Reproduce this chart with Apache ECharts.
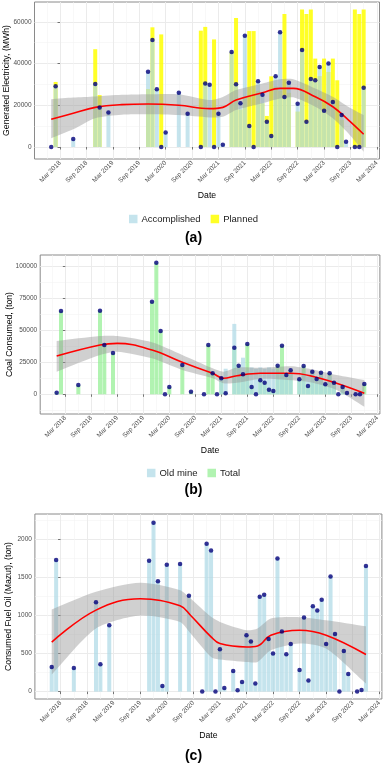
<!DOCTYPE html>
<html>
<head>
<meta charset="utf-8">
<script src="https://cdn.jsdelivr.net/npm/echarts@6/dist/echarts.min.js"></script>
<style>
  html, body { margin: 0; background: #fff; }
  #chart { width: 387px; height: 763px; }
</style>
</head>
<body>
<div id="chart"></div>
<script>
// months with observations (same for all three panels)
const months = [
  '2018-01', '2018-02', '2018-06', '2018-11', '2018-12',
  '2019-02', '2019-11', '2019-12',
  '2020-01', '2020-02', '2020-03', '2020-06', '2020-08', '2020-11', '2020-12',
  '2021-01', '2021-02', '2021-03', '2021-04', '2021-06', '2021-07', '2021-08', '2021-09', '2021-10', '2021-11', '2021-12',
  '2022-01', '2022-02', '2022-03', '2022-04', '2022-05', '2022-06', '2022-07', '2022-09', '2022-10', '2022-11', '2022-12',
  '2023-01', '2023-02', '2023-03', '2023-04', '2023-05', '2023-06', '2023-07', '2023-08', '2023-10', '2023-11', '2023-12'
]

// (a) generated electricity, MWh
const accomplished = [
  0, 29100, 3800, 30200, 19000,
  16500, 36100, 51300,
  27700, 0, 6900, 26000, 16000, 0, 30500,
  29900, 0, 16000, 1100, 45600, 30100, 21000, 53400, 10100, 0, 31500,
  25100, 12100, 5300, 33900, 55000, 24000, 30800, 20800, 46500, 12100, 32600,
  32000, 38400, 17400, 40000, 21600, 0, 15300, 2500, 0, 0, 28400
]
const planned = [
  0, 31200, 0, 46900, 24900,
  0, 27800, 57400,
  0, 54000, 0, 0, 0, 55800, 57600,
  0, 51600, 0, 0, 45600, 61900, 18000, 24000, 55600, 55600, 27000,
  21000, 14900, 33900, 29000, 27000, 63800, 26000, 17000, 66000, 63800, 66000,
  42400, 34000, 42400, 36000, 42400, 32000, 13000, 0, 66000, 63800, 66000
]

// (b) coal consumed, ton
const coalTotal = [
  1250, 65000, 7300, 65300, 38500,
  32300, 72400, 102800,
  49400, 0, 5700, 22900, 2000, 0, 38500,
  16400, 0, 12500, 800, 36400, 22400, 15600, 39300, 5700, 0, 10900,
  9100, 3600, 2600, 22400, 38000, 15100, 18700, 11700, 22100, 6500, 17700,
  12000, 16900, 7800, 16400, 9100, 0, 5700, 1000, 0, 0, 8000
]
const coalOldMine = [
  0, 0, 0, 0, 0,
  0, 0, 0,
  0, 0, 0, 0, 0, 0, 0,
  0, 0, 12000, 20000, 55000, 22000, 28600, 18000, 21000, 20000, 21000,
  20000, 21000, 20000, 18000, 17000, 15000, 16000, 12000, 16000, 14000, 18000,
  12000, 15000, 9000, 14000, 8000, 0, 5000, 0, 0, 0, 0
]

// (c) fuel oil (mazut), ton
const mazut = [
  324, 1728, 311, 1175, 359,
  872, 1719, 2219,
  1451, 74, 1666, 1675, 1258, 0, 1942,
  1855, 0, 556, 48, 271, 17, 127, 741, 657, 105, 1245,
  1271, 692, 500, 1750, 789, 491, 627, 284, 974, 145, 1122,
  1066, 1206, 627, 1513, 758, 0, 535, 232, 0, 21, 1649
]

// loess fits (x in months after Mar 2018)
const genFitX = [-2, 3, 8, 14, 20, 27, 34, 37, 40, 46, 50, 53, 58, 62, 65.5, 69]
const genFit = [13300, 16200, 19000, 20300, 20600, 20000, 18400, 19000, 22500, 26000, 28100, 28100, 24100, 19300, 13000, 6100]
const genLow = [4200, 8500, 13800, 15500, 15700, 15300, 14200, 14500, 17700, 21000, 23300, 23800, 19300, 13800, 6600, -2300]
const genHigh = [22900, 23700, 24200, 25000, 25300, 25300, 22500, 24000, 27300, 30500, 32500, 32500, 28100, 24100, 19300, 15300]

const coalFitX = [-2, 8, 12, 20, 27, 34, 36.5, 39.6, 45, 52, 56.5, 62.6, 69]
const coalFit = [29900, 38500, 39800, 34600, 25000, 16400, 12500, 14500, 16400, 16400, 14500, 8600, 800]
const coalLow = [17700, 30700, 33300, 28100, 19000, 12500, 8600, 9000, 12000, 11000, 9400, 3400, -9700]
const coalHigh = [41600, 45500, 45500, 40600, 30700, 20300, 17700, 21000, 20700, 21900, 19800, 15100, 11200]

const mazutFitX = [-2, 8, 18, 27, 29.4, 34, 36, 42, 44.5, 47.5, 54, 60, 69]
const mazutFit = [649, 1070, 1219, 1127, 1000, 719, 631, 587, 600, 741, 807, 741, 487]
const mazutLow = [224, 829, 1000, 916, 763, 455, 421, 390, 390, 543, 632, 566, 105]
const mazutHigh = [1079, 1311, 1429, 1333, 1224, 982, 916, 807, 830, 961, 978, 938, 859]

// axis breaks
const dateTicks = [0, 6, 12, 18, 24, 30, 36, 42, 48, 54, 60, 66, 72]
const dateLabels = ['Mar 2018', 'Sep 2018', 'Mar 2019', 'Sep 2019', 'Mar 2020', 'Sep 2020', 'Mar 2021',
  'Sep 2021', 'Mar 2022', 'Sep 2022', 'Mar 2023', 'Sep 2023', 'Mar 2024']
const dateMinor = [-3, 3, 9, 15, 21, 27, 33, 39, 45, 51, 57, 63, 69]
const genTicks = [0, 20000, 40000, 60000]
const genMinor = [10000, 30000, 50000]
const coalTicks = [0, 25000, 50000, 75000, 100000]
const coalMinor = [-12500, 12500, 37500, 62500, 87500]
const mazutTicks = [0, 500, 1000, 1500, 2000]
const mazutMinor = [250, 750, 1250, 1750, 2250]

// 'YYYY-MM' -> months after Mar 2018
const monthPos = s => {
  const [y, m] = s.split('-').map(Number)
  return (y - 2018) * 12 + (m - 3)
}
const xs = months.map(monthPos)
const pairs = vals => xs.map((x, i) => [x, vals[i]])

const FONT = 'Liberation Sans'
const panels = [
  {left: 34.5, width: 345, top: 2, height: 157, yMin: -5755, yMax: 69540,
    ticks: genTicks, minor: genMinor, name: 'Generated Electricity, (MWh)', nameGap: 23},
  {left: 40.2, width: 339.7, top: 255, height: 159, yMin: -15390, yMax: 108830,
    ticks: coalTicks, minor: coalMinor, name: 'Coal Consumed, (ton)', nameGap: 26},
  {left: 34.9, width: 347, top: 514, height: 185, yMin: -97, yMax: 2333,
    ticks: mazutTicks, minor: mazutMinor, name: 'Consumed Fuel Oil (Mazut), (ton)', nameGap: 22}
]
const X_MIN = -5.8, X_MAX = 72.6

const grid = panels.map(p => ({
  left: p.left, width: p.width, top: p.top, height: p.height,
  outerBoundsMode: 'none',
  show: true, backgroundColor: '#fff', borderColor: '#8a8a8a', borderWidth: 1
}))

const xMain = panels.map((p, i) => ({
  type: 'value', gridIndex: i, min: X_MIN, max: X_MAX,
  name: 'Date', nameLocation: 'middle', nameGap: 32,
  nameTextStyle: {fontFamily: FONT, fontSize: 8.7, color: '#000'},
  axisLine: {show: false},
  axisTick: {show: true, customValues: dateTicks, length: 2.5, lineStyle: {color: '#555', width: 0.8}},
  axisLabel: {customValues: dateTicks, rotate: 45, margin: 3, fontFamily: FONT, fontSize: 6.5, color: '#4d4d4d',
    formatter: v => dateLabels[dateTicks.indexOf(v)] || ''},
  splitLine: {show: true, lineStyle: {color: '#ebebeb', width: 1}}
}))
const xMinor = panels.map((p, i) => ({
  type: 'value', gridIndex: i, min: X_MIN, max: X_MAX,
  axisLine: {show: false}, axisLabel: {show: false},
  axisTick: {show: false, customValues: dateMinor},
  splitLine: {show: true, lineStyle: {color: '#f3f3f3', width: 0.6}}
}))
const yMain = panels.map((p, i) => ({
  type: 'value', gridIndex: i, min: p.yMin, max: p.yMax,
  name: p.name, nameLocation: 'middle', nameRotate: 90, nameGap: p.nameGap,
  nameMoveOverlap: false,
  nameTextStyle: {fontFamily: FONT, fontSize: 8.7, color: '#000'},
  axisLine: {show: false},
  axisTick: {show: true, customValues: p.ticks, length: 2.5, lineStyle: {color: '#555', width: 0.8}},
  axisLabel: {customValues: p.ticks, margin: 3, fontFamily: FONT, fontSize: 6.5, color: '#4d4d4d',
    formatter: v => String(v)},
  splitLine: {show: true, lineStyle: {color: '#ebebeb', width: 1}}
}))
const yMinor = panels.map((p, i) => ({
  type: 'value', gridIndex: i, min: p.yMin, max: p.yMax,
  axisLine: {show: false}, axisLabel: {show: false},
  axisTick: {show: false, customValues: p.minor},
  splitLine: {show: true, lineStyle: {color: '#f3f3f3', width: 0.6}}
}))

// helpers for the repeated layers
const bars = (gi, name, vals, color, opacity) => ({
  type: 'bar', name, xAxisIndex: gi, yAxisIndex: gi, data: pairs(vals),
  barWidth: 4, barGap: '-100%', z: 2, silent: true,
  itemStyle: {color, opacity}
})
// confidence ribbon: closed smooth polygon, end points doubled so the ends stay square
const band = (gi, fx, lo, hi) => ({
  type: 'custom', xAxisIndex: gi, yAxisIndex: gi, z: 3, silent: true,
  data: fx.map((x, i) => [x, lo[i], hi[i]]),
  encode: {x: 0, y: [1, 2]},
  renderItem(params, api) {
    if (params.dataIndex !== 0) return
    const up = fx.map((x, i) => api.coord([x, hi[i]]))
    const dn = fx.map((x, i) => api.coord([x, lo[i]])).reverse()
    const pts = [up[0], ...up, up[up.length - 1], dn[0], ...dn, dn[dn.length - 1]]
    return {type: 'polygon', shape: {points: pts, smooth: 0.25},
      style: {fill: 'rgba(150,150,150,0.45)'}}
  }
})
const fit = (gi, fx, vals) => ({
  type: 'line', xAxisIndex: gi, yAxisIndex: gi, z: 4, silent: true,
  data: fx.map((x, i) => [x, vals[i]]), smooth: 0.4, symbol: 'none',
  lineStyle: {color: '#ff0000', width: 1.6}
})
const dots = (gi, vals) => ({
  type: 'scatter', xAxisIndex: gi, yAxisIndex: gi, z: 5, silent: true,
  data: pairs(vals), symbolSize: 4.5, itemStyle: {color: '#00007a'}
})

const legendBase = {
  left: 'center', icon: 'rect', itemWidth: 8.5, itemHeight: 8.5, itemGap: 10,
  selectedMode: false, textStyle: {fontFamily: FONT, fontSize: 9.5, color: '#1a1a1a', padding: [0, 0, 0, -1]}
}
const titleStyle = {fontFamily: FONT, fontSize: 14, fontWeight: 'bold', color: '#000'}

const chart = echarts.init(document.getElementById('chart'), null, {renderer: 'canvas'})
chart.setOption({
  animation: false,
  backgroundColor: '#fff',
  title: [
    {text: '(a)', left: 'center', top: 226, textStyle: titleStyle},
    {text: '(b)', left: 'center', top: 478, textStyle: titleStyle},
    {text: '(c)', left: 'center', top: 744, textStyle: titleStyle}
  ],
  legend: [
    {...legendBase, top: 209, data: ['Accomplished', 'Planned']},
    {...legendBase, top: 463, data: ['Old mine', 'Total']}
  ],
  grid,
  xAxis: [...xMain, ...xMinor],
  yAxis: [...yMain, ...yMinor],
  series: [
    // (a)
    bars(0, 'Planned', planned, '#ffff00', 0.85),
    bars(0, 'Accomplished', accomplished, '#add8e6', 0.7),
    band(0, genFitX, genLow, genHigh),
    fit(0, genFitX, genFit),
    dots(0, accomplished),
    // (b)
    bars(1, 'Total', coalTotal, '#90ee90', 0.7),
    bars(1, 'Old mine', coalOldMine, '#add8e6', 0.7),
    band(1, coalFitX, coalLow, coalHigh),
    fit(1, coalFitX, coalFit),
    dots(1, coalTotal),
    // (c)
    bars(2, 'Fuel oil', mazut, '#add8e6', 0.7),
    band(2, mazutFitX, mazutLow, mazutHigh),
    fit(2, mazutFitX, mazutFit),
    dots(2, mazut)
  ]
})
</script>
</body>
</html>
